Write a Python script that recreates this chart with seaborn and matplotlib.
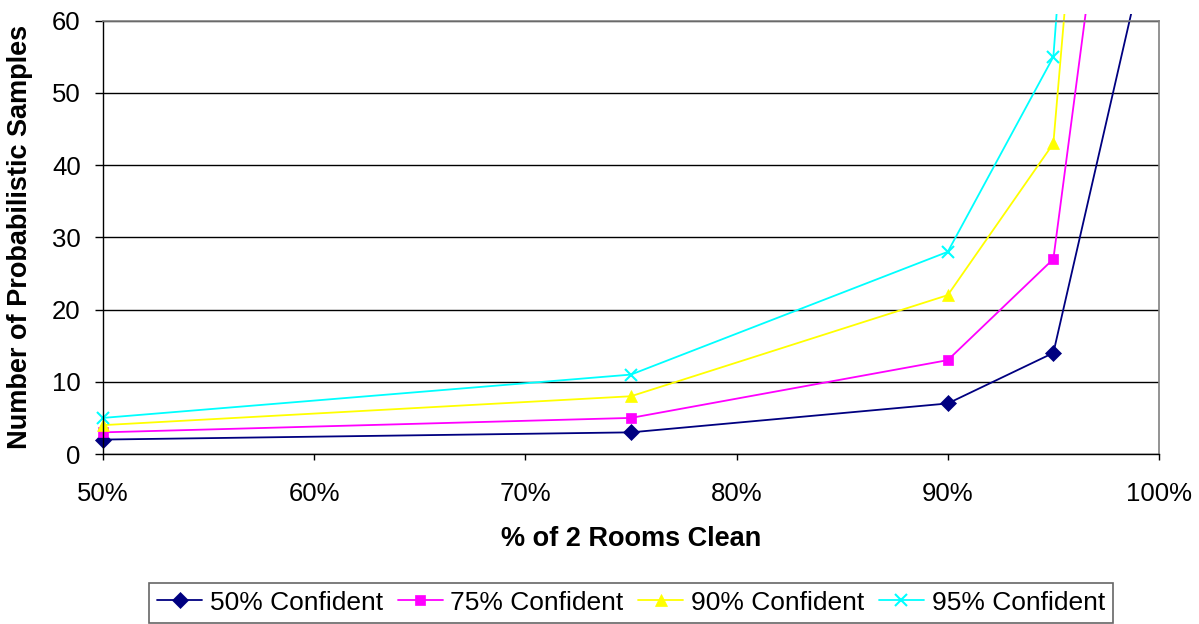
import numpy as np
import pandas as pd
import matplotlib
matplotlib.use("Agg")
import matplotlib.pyplot as plt
from matplotlib.patches import Rectangle
import seaborn as sns

# Data
pct_clean = [50, 75, 90, 95, 99]
conf_50 = [2, 3, 7, 14, 65]
conf_75 = [3, 5, 13, 27, 116]
conf_90 = [4, 8, 22, 43, 180]
conf_95 = [5, 11, 28, 55, 210]
series_names = ["50% Confident", "75% Confident", "90% Confident", "95% Confident"]

rows = []
for name, vals in zip(series_names, [conf_50, conf_75, conf_90, conf_95]):
    for x, y in zip(pct_clean, vals):
        rows.append({"pct": x, "samples": y, "series": name})
df = pd.DataFrame(rows)

colors = {"50% Confident": "#000080", "75% Confident": "#FF00FF",
          "90% Confident": "#FFFF00", "95% Confident": "#00FFFF"}
markers = {"50% Confident": "D", "75% Confident": "s",
           "90% Confident": "^", "95% Confident": "x"}
msizes = {"50% Confident": 8.3, "75% Confident": 7.5,
          "90% Confident": 9, "95% Confident": 8}

sns.set_style("white")
plt.rcParams["font.family"] = ["Liberation Sans", "DejaVu Sans"]
for key in ["text.color", "axes.labelcolor", "xtick.color", "ytick.color"]:
    plt.rcParams[key] = "black"

fig = plt.figure(figsize=(11.99, 6.24), dpi=100)
ax = fig.add_axes([0.0859, 0.2724, 0.8807, 0.6944])

for name in series_names:
    sub = df[df["series"] == name]
    sns.lineplot(data=sub, x="pct", y="samples", ax=ax, color=colors[name],
                 marker=markers[name], markersize=msizes[name], linewidth=1.3,
                 markeredgecolor=colors[name], markeredgewidth=1.5 if name == "95% Confident" else 0.5,
                 label=name, sort=False, estimator=None)

# let lines run slightly past the top of the frame, like the original
clip = Rectangle((-0.03, -0.05), 1.06, 1.0655, transform=ax.transAxes)
for ln in ax.lines:
    ln.set_clip_path(clip)

ax.set_xlim(50, 100)
ax.set_ylim(0, 60)
ax.set_xticks([50, 60, 70, 80, 90, 100])
ax.set_xticklabels([f"{v}%" for v in [50, 60, 70, 80, 90, 100]])
ax.set_yticks(range(0, 61, 10))

ax.grid(True, axis="y", color="black", linewidth=1)
ax.grid(False, axis="x")
ax.set_axisbelow(True)

for side in ["left", "bottom"]:
    ax.spines[side].set_color("black")
    ax.spines[side].set_linewidth(1)
for side in ["top", "right"]:
    ax.spines[side].set_color("#808080")
    ax.spines[side].set_linewidth(1.2)

ax.tick_params(axis="y", direction="out", length=6, width=1, pad=10, labelsize=18.5, left=True)
ax.tick_params(axis="x", direction="out", length=4.5, width=1, pad=16, labelsize=18.5, bottom=True)

ax.set_xlabel("% of 2 Rooms Clean", fontsize=19.5, fontweight="bold", labelpad=14)
ax.set_ylabel("Number of Probabilistic Samples", fontsize=19.5, fontweight="bold", labelpad=14)

leg = ax.legend(loc="upper center", bbox_to_anchor=(0.5263, 0.066), bbox_transform=fig.transFigure,
                ncol=4, fontsize=19, frameon=True, fancybox=False, edgecolor="#404040",
                handlelength=1.7, handletextpad=0.3, columnspacing=0.55, borderpad=0.3,
                borderaxespad=0)
leg.get_frame().set_linewidth(1.2)

fig.savefig("out.png", dpi=100)
